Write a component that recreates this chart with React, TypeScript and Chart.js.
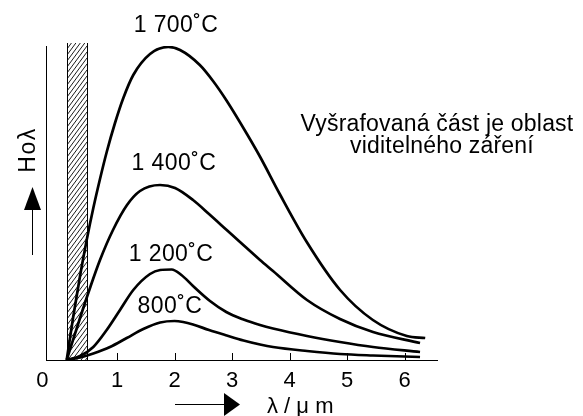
import React, { useEffect, useRef } from "react";
import { Chart, registerables } from "chart.js";

Chart.register(...registerables);

// ---- data ----
const seriesLabels = ["1 700˚C", "1 400˚C", "1 200˚C", "800˚C"];

const lambda1700 = [0.125, 0.235, 0.357, 0.473, 0.588, 0.704, 0.821, 0.965, 1.11, 1.283, 1.574, 1.892, 2.096, 2.44, 2.67, 2.91, 3.26, 3.49, 3.83, 4.3, 4.88, 5.45, 6.04, 6.36];
const h1700 = [0, 42, 84, 120, 152, 181, 208, 237, 262, 285, 306, 313, 310, 295, 279, 259, 226, 203, 166, 118, 70, 40, 24, 22];

const lambda1400 = [0.125, 0.357, 0.53, 0.704, 0.93, 1.174, 1.4, 1.748, 2.009, 2.322, 2.6, 2.908, 3.139, 3.487, 3.713, 4.304, 4.878, 5.452, 6.27];
const h1400 = [0, 42, 72, 100, 130, 155, 169, 175, 172, 160, 146, 130, 118, 100, 89, 60, 41, 28, 17];

const lambda1200 = [0.125, 0.357, 0.588, 0.821, 1.052, 1.283, 1.574, 1.75, 1.95, 2.12, 2.322, 2.617, 2.9, 3.2, 3.487, 3.713, 4.304, 4.878, 5.452, 6.27];
const h1200 = [0, 4, 13, 30, 50, 70, 86, 90, 90.5, 85, 74, 59, 48, 40.5, 35, 31.5, 24, 18, 13, 8];

const lambda800 = [0.125, 0.357, 0.588, 0.878, 1.169, 1.457, 1.75, 2.0, 2.15, 2.322, 2.6, 2.908, 3.2, 3.487, 3.713, 4.304, 4.878, 5.452, 6.27];
const h800 = [0, 2.5, 6.5, 13, 22, 31, 37.5, 39, 38, 35.5, 30, 24.5, 19.5, 15.5, 13, 9, 6, 4.5, 3];

const xTickValues = [-0.3, 1, 2, 3, 4, 5, 6];
const xTickLabels = ["0", "1", "2", "3", "4", "5", "6"];
const visibleBand = [0.13, 0.48];

const X_MIN = -0.235;
const X_MAX = 6.565;
const Y_MAX = 314;
const HATCH_TOP = 317;

const FONT = '"Liberation Sans", Arial, Helvetica, sans-serif';

const toPoints = (xs: number[], ys: number[]) => xs.map((x, i) => ({ x, y: ys[i] }));

const overlay = {
  id: "overlay",
  beforeDatasetsDraw(chart: any) {
    const ctx = chart.ctx;
    const xs = chart.scales.x;
    const ys = chart.scales.y;
    const l = xs.getPixelForValue(visibleBand[0]);
    const r = xs.getPixelForValue(visibleBand[1]);
    const t = ys.getPixelForValue(HATCH_TOP);
    const b = ys.getPixelForValue(0);
    ctx.save();
    ctx.beginPath();
    ctx.rect(l, t, r - l, b - t);
    ctx.clip();
    ctx.strokeStyle = "#000";
    ctx.lineWidth = 0.9;
    const k = 1.35;
    const step = 6;
    ctx.beginPath();
    for (let y0 = t; y0 < b + (r - l) * k + step; y0 += step) {
      ctx.moveTo(l, y0);
      ctx.lineTo(r, y0 - (r - l) * k);
    }
    ctx.stroke();
    ctx.restore();
    ctx.save();
    ctx.strokeStyle = "#000";
    ctx.lineWidth = 1;
    ctx.beginPath();
    ctx.moveTo(Math.round(l) + 0.5, t);
    ctx.lineTo(Math.round(l) + 0.5, b);
    ctx.moveTo(Math.round(r) + 0.5, t);
    ctx.lineTo(Math.round(r) + 0.5, b);
    ctx.stroke();
    ctx.restore();
  },
  afterDraw(chart: any) {
    const ctx = chart.ctx;
    const xs = chart.scales.x;
    const ys = chart.scales.y;
    const bottom = ys.getPixelForValue(0);
    ctx.save();
    // inward tick marks
    ctx.strokeStyle = "#000";
    ctx.lineWidth = 1;
    ctx.beginPath();
    xTickValues.slice(1).forEach((v) => {
      const px = Math.round(xs.getPixelForValue(v)) + 0.5;
      ctx.moveTo(px, bottom);
      ctx.lineTo(px, bottom - 7);
    });
    ctx.stroke();

    // curve labels
    ctx.fillStyle = "#000";
    ctx.font = `23px ${FONT}`;
    ctx.textAlign = "center";
    ctx.textBaseline = "alphabetic";
    (ctx as any).letterSpacing = "0.4px";
    const labelAnchors = [
      [2.026, 328],
      [1.99, 190],
      [1.94, 99],
      [1.92, 47],
    ];
    seriesLabels.forEach((s, i) => {
      ctx.fillText(s, xs.getPixelForValue(labelAnchors[i][0]), ys.getPixelForValue(labelAnchors[i][1]));
    });

    // note
    (ctx as any).letterSpacing = "0.2px";
    ctx.fillText("Vyšrafovaná část je oblast", 437, 131);
    ctx.fillText("viditelného záření", 442, 153);
    (ctx as any).letterSpacing = "0px";

    // x axis title + arrow
    ctx.font = `22px ${FONT}`;
    ctx.textAlign = "left";
    ctx.fillText("λ / μ m", 267, 413);
    ctx.beginPath();
    ctx.moveTo(175, 404.5);
    ctx.lineTo(226, 404.5);
    ctx.stroke();
    ctx.beginPath();
    ctx.moveTo(224, 393);
    ctx.lineTo(240, 404.5);
    ctx.lineTo(224, 416);
    ctx.closePath();
    ctx.fill();

    // y axis title + arrow
    ctx.save();
    ctx.translate(35, 150);
    ctx.rotate(-Math.PI / 2);
    ctx.textAlign = "center";
    ctx.font = `23px ${FONT}`;
    (ctx as any).letterSpacing = "1.5px";
    ctx.fillText("Hoλ", 0, 0);
    ctx.restore();
    ctx.beginPath();
    ctx.moveTo(32.5, 255);
    ctx.lineTo(32.5, 208);
    ctx.stroke();
    ctx.beginPath();
    ctx.moveTo(24, 210);
    ctx.lineTo(32.5, 187);
    ctx.lineTo(41, 210);
    ctx.closePath();
    ctx.fill();
    ctx.restore();
  },
};

export default function App() {
  const ref = useRef<HTMLCanvasElement | null>(null);
  useEffect(() => {
    if (!ref.current) return;
    const mk = (label: string, xs: number[], ys: number[]) => ({
      label,
      data: toPoints(xs, ys),
      borderColor: "#000",
      borderWidth: 2.7,
      pointRadius: 0,
      fill: false,
      cubicInterpolationMode: "monotone" as const,
    });
    const chart = new Chart(ref.current, {
      type: "line",
      data: {
        datasets: [
          mk(seriesLabels[0], lambda1700, h1700),
          mk(seriesLabels[1], lambda1400, h1400),
          mk(seriesLabels[2], lambda1200, h1200),
          mk(seriesLabels[3], lambda800, h800),
        ],
      },
      options: {
        responsive: false,
        animation: false,
        devicePixelRatio: 1,
        layout: { padding: { left: 46, top: 46, right: 146, bottom: 0 } },
        plugins: { legend: { display: false }, tooltip: { enabled: false } },
        scales: {
          x: {
            type: "linear",
            min: X_MIN,
            max: X_MAX,
            afterBuildTicks: (s: any) => {
              s.ticks = xTickValues.map((v) => ({ value: v }));
            },
            afterFit: (s: any) => {
              s.height = 56;
            },
            ticks: {
              autoSkip: false,
              maxRotation: 0,
              padding: 8,
              color: "#000",
              font: { size: 22, family: FONT },
              callback: (_v: any, i: number) => xTickLabels[i],
            },
            grid: { display: false, drawTicks: false, tickLength: 0 },
            border: { display: true, color: "#000", width: 1 },
          },
          y: {
            type: "linear",
            min: 0,
            max: Y_MAX,
            afterFit: (s: any) => {
              s.width = 0;
            },
            ticks: { display: false },
            grid: { display: false, drawTicks: false, tickLength: 0 },
            border: { display: true, color: "#000", width: 1 },
          },
        },
      },
      plugins: [overlay],
    });
    return () => chart.destroy();
  }, []);
  return (
    <div style={{ position: "absolute", left: 0, top: 0, width: 583, height: 416, background: "#fff" }}>
      <canvas ref={ref} width={583} height={416} style={{ display: "block" }} />
    </div>
  );
}
